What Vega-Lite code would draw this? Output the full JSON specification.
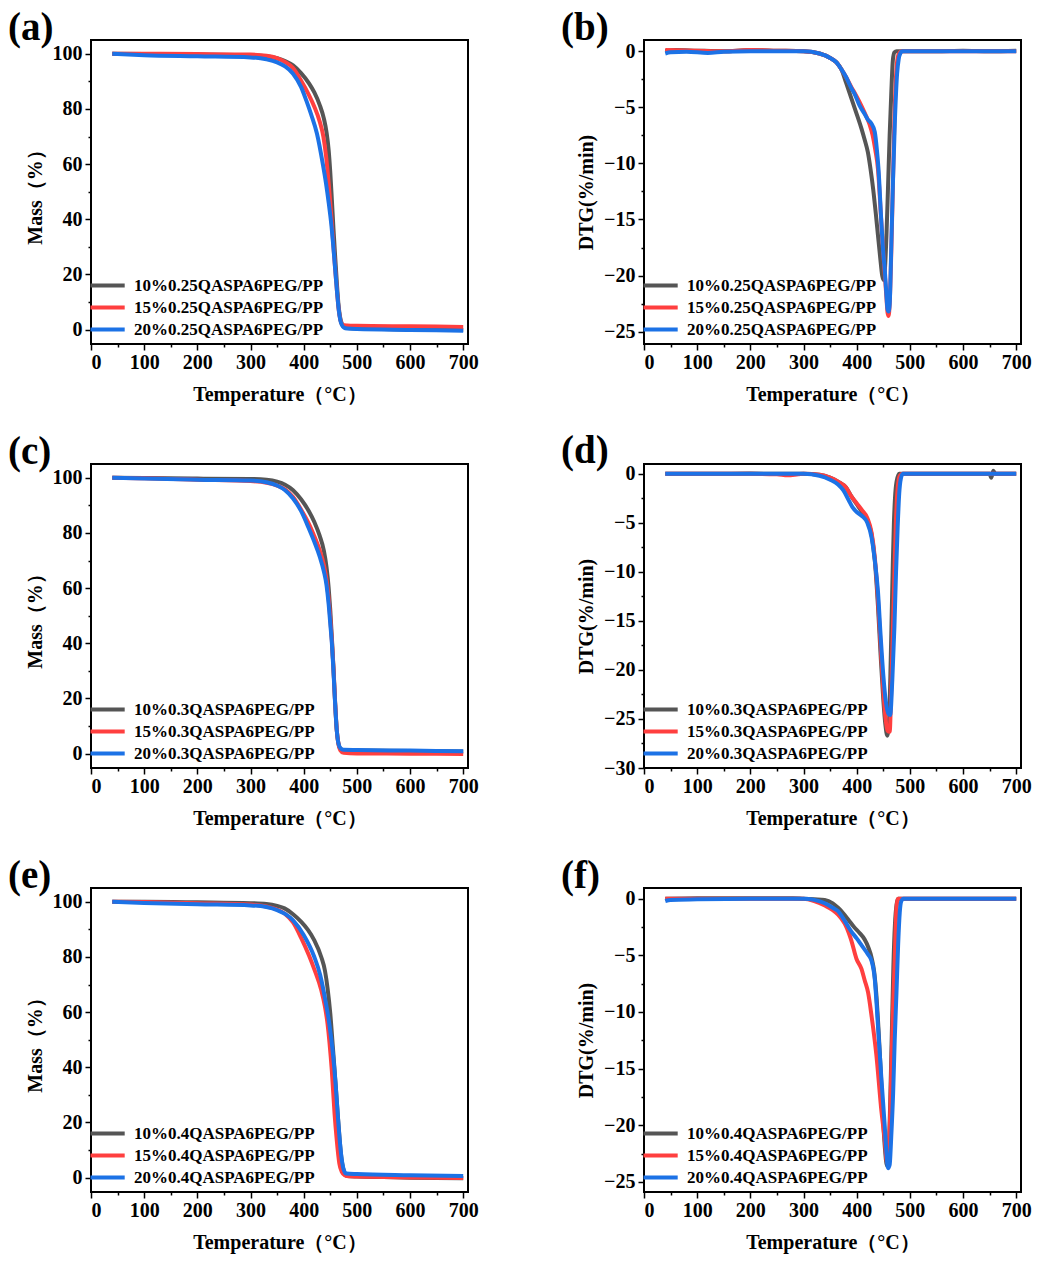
{
  "$schema": "https://vega.github.io/schema/vega-lite/v6.json",
  "padding": {"left": 7, "top": 8, "right": 5, "bottom": 5},
  "background": "white",
  "datasets": {
    "a": [
      {"s": "10%0.25QASPA6PEG/PP", "T": 40, "v": 100}, {"s": "10%0.25QASPA6PEG/PP", "T": 100, "v": 99.9}, {"s": "10%0.25QASPA6PEG/PP", "T": 200, "v": 99.7}, {"s": "10%0.25QASPA6PEG/PP", "T": 300, "v": 99.5}, {"s": "10%0.25QASPA6PEG/PP", "T": 330, "v": 99.1}, {"s": "10%0.25QASPA6PEG/PP", "T": 350, "v": 98.4}, {"s": "10%0.25QASPA6PEG/PP", "T": 365, "v": 97.4}, {"s": "10%0.25QASPA6PEG/PP", "T": 380, "v": 95.8}, {"s": "10%0.25QASPA6PEG/PP", "T": 395, "v": 93}, {"s": "10%0.25QASPA6PEG/PP", "T": 410, "v": 89.3}, {"s": "10%0.25QASPA6PEG/PP", "T": 420, "v": 86}, {"s": "10%0.25QASPA6PEG/PP", "T": 430, "v": 81.5}, {"s": "10%0.25QASPA6PEG/PP", "T": 438, "v": 76.5}, {"s": "10%0.25QASPA6PEG/PP", "T": 443, "v": 71.5}, {"s": "10%0.25QASPA6PEG/PP", "T": 447, "v": 65}, {"s": "10%0.25QASPA6PEG/PP", "T": 450, "v": 57}, {"s": "10%0.25QASPA6PEG/PP", "T": 453, "v": 47}, {"s": "10%0.25QASPA6PEG/PP", "T": 456, "v": 36.5}, {"s": "10%0.25QASPA6PEG/PP", "T": 459, "v": 27}, {"s": "10%0.25QASPA6PEG/PP", "T": 462, "v": 18}, {"s": "10%0.25QASPA6PEG/PP", "T": 465, "v": 10}, {"s": "10%0.25QASPA6PEG/PP", "T": 468, "v": 5}, {"s": "10%0.25QASPA6PEG/PP", "T": 472, "v": 2}, {"s": "10%0.25QASPA6PEG/PP", "T": 476, "v": 1}, {"s": "10%0.25QASPA6PEG/PP", "T": 482, "v": 0.6}, {"s": "10%0.25QASPA6PEG/PP", "T": 500, "v": 0.4}, {"s": "10%0.25QASPA6PEG/PP", "T": 600, "v": 0.1}, {"s": "10%0.25QASPA6PEG/PP", "T": 700, "v": -0.1},
      {"s": "15%0.25QASPA6PEG/PP", "T": 40, "v": 100}, {"s": "15%0.25QASPA6PEG/PP", "T": 100, "v": 100}, {"s": "15%0.25QASPA6PEG/PP", "T": 200, "v": 99.9}, {"s": "15%0.25QASPA6PEG/PP", "T": 300, "v": 99.7}, {"s": "15%0.25QASPA6PEG/PP", "T": 330, "v": 99.3}, {"s": "15%0.25QASPA6PEG/PP", "T": 350, "v": 98.4}, {"s": "15%0.25QASPA6PEG/PP", "T": 365, "v": 97}, {"s": "15%0.25QASPA6PEG/PP", "T": 380, "v": 94.8}, {"s": "15%0.25QASPA6PEG/PP", "T": 395, "v": 90.3}, {"s": "15%0.25QASPA6PEG/PP", "T": 410, "v": 85}, {"s": "15%0.25QASPA6PEG/PP", "T": 420, "v": 80.8}, {"s": "15%0.25QASPA6PEG/PP", "T": 430, "v": 75.5}, {"s": "15%0.25QASPA6PEG/PP", "T": 437, "v": 70}, {"s": "15%0.25QASPA6PEG/PP", "T": 442, "v": 63}, {"s": "15%0.25QASPA6PEG/PP", "T": 447, "v": 53}, {"s": "15%0.25QASPA6PEG/PP", "T": 452, "v": 41}, {"s": "15%0.25QASPA6PEG/PP", "T": 456, "v": 30}, {"s": "15%0.25QASPA6PEG/PP", "T": 460, "v": 20}, {"s": "15%0.25QASPA6PEG/PP", "T": 463, "v": 13}, {"s": "15%0.25QASPA6PEG/PP", "T": 466, "v": 7}, {"s": "15%0.25QASPA6PEG/PP", "T": 469, "v": 3.5}, {"s": "15%0.25QASPA6PEG/PP", "T": 472, "v": 2}, {"s": "15%0.25QASPA6PEG/PP", "T": 476, "v": 1.6}, {"s": "15%0.25QASPA6PEG/PP", "T": 482, "v": 1.5}, {"s": "15%0.25QASPA6PEG/PP", "T": 500, "v": 1.4}, {"s": "15%0.25QASPA6PEG/PP", "T": 600, "v": 1.2}, {"s": "15%0.25QASPA6PEG/PP", "T": 700, "v": 1.0},
      {"s": "20%0.25QASPA6PEG/PP", "T": 40, "v": 100}, {"s": "20%0.25QASPA6PEG/PP", "T": 100, "v": 99.5}, {"s": "20%0.25QASPA6PEG/PP", "T": 200, "v": 99.1}, {"s": "20%0.25QASPA6PEG/PP", "T": 300, "v": 98.7}, {"s": "20%0.25QASPA6PEG/PP", "T": 330, "v": 98}, {"s": "20%0.25QASPA6PEG/PP", "T": 350, "v": 96.9}, {"s": "20%0.25QASPA6PEG/PP", "T": 365, "v": 95.4}, {"s": "20%0.25QASPA6PEG/PP", "T": 380, "v": 92.8}, {"s": "20%0.25QASPA6PEG/PP", "T": 395, "v": 88}, {"s": "20%0.25QASPA6PEG/PP", "T": 405, "v": 83}, {"s": "20%0.25QASPA6PEG/PP", "T": 414, "v": 78}, {"s": "20%0.25QASPA6PEG/PP", "T": 425, "v": 71}, {"s": "20%0.25QASPA6PEG/PP", "T": 436, "v": 60}, {"s": "20%0.25QASPA6PEG/PP", "T": 442, "v": 53}, {"s": "20%0.25QASPA6PEG/PP", "T": 447, "v": 46}, {"s": "20%0.25QASPA6PEG/PP", "T": 452, "v": 38}, {"s": "20%0.25QASPA6PEG/PP", "T": 456, "v": 29.5}, {"s": "20%0.25QASPA6PEG/PP", "T": 460, "v": 20}, {"s": "20%0.25QASPA6PEG/PP", "T": 463, "v": 13}, {"s": "20%0.25QASPA6PEG/PP", "T": 466, "v": 7}, {"s": "20%0.25QASPA6PEG/PP", "T": 469, "v": 3.3}, {"s": "20%0.25QASPA6PEG/PP", "T": 472, "v": 1.6}, {"s": "20%0.25QASPA6PEG/PP", "T": 476, "v": 0.7}, {"s": "20%0.25QASPA6PEG/PP", "T": 482, "v": 0.4}, {"s": "20%0.25QASPA6PEG/PP", "T": 500, "v": 0.2}, {"s": "20%0.25QASPA6PEG/PP", "T": 600, "v": -0.1}, {"s": "20%0.25QASPA6PEG/PP", "T": 700, "v": -0.4}
    ],
    "b": [
      {"s": "10%0.25QASPA6PEG/PP", "T": 40, "v": 0}, {"s": "10%0.25QASPA6PEG/PP", "T": 60, "v": 0.1}, {"s": "10%0.25QASPA6PEG/PP", "T": 100, "v": 0.05}, {"s": "10%0.25QASPA6PEG/PP", "T": 150, "v": 0}, {"s": "10%0.25QASPA6PEG/PP", "T": 200, "v": 0.1}, {"s": "10%0.25QASPA6PEG/PP", "T": 250, "v": 0.05}, {"s": "10%0.25QASPA6PEG/PP", "T": 300, "v": 0}, {"s": "10%0.25QASPA6PEG/PP", "T": 330, "v": -0.2}, {"s": "10%0.25QASPA6PEG/PP", "T": 350, "v": -0.6}, {"s": "10%0.25QASPA6PEG/PP", "T": 362, "v": -1.0}, {"s": "10%0.25QASPA6PEG/PP", "T": 371, "v": -1.6}, {"s": "10%0.25QASPA6PEG/PP", "T": 380, "v": -2.8}, {"s": "10%0.25QASPA6PEG/PP", "T": 390, "v": -4.2}, {"s": "10%0.25QASPA6PEG/PP", "T": 400, "v": -5.6}, {"s": "10%0.25QASPA6PEG/PP", "T": 409, "v": -6.9}, {"s": "10%0.25QASPA6PEG/PP", "T": 415, "v": -7.9}, {"s": "10%0.25QASPA6PEG/PP", "T": 421, "v": -9}, {"s": "10%0.25QASPA6PEG/PP", "T": 426, "v": -10.5}, {"s": "10%0.25QASPA6PEG/PP", "T": 431, "v": -12.3}, {"s": "10%0.25QASPA6PEG/PP", "T": 436, "v": -14.5}, {"s": "10%0.25QASPA6PEG/PP", "T": 440, "v": -16.4}, {"s": "10%0.25QASPA6PEG/PP", "T": 444, "v": -18.3}, {"s": "10%0.25QASPA6PEG/PP", "T": 448, "v": -20}, {"s": "10%0.25QASPA6PEG/PP", "T": 451, "v": -20.4}, {"s": "10%0.25QASPA6PEG/PP", "T": 453, "v": -19.5}, {"s": "10%0.25QASPA6PEG/PP", "T": 456, "v": -16.4}, {"s": "10%0.25QASPA6PEG/PP", "T": 459, "v": -12}, {"s": "10%0.25QASPA6PEG/PP", "T": 462, "v": -7.5}, {"s": "10%0.25QASPA6PEG/PP", "T": 465, "v": -3.8}, {"s": "10%0.25QASPA6PEG/PP", "T": 468, "v": -0.8}, {"s": "10%0.25QASPA6PEG/PP", "T": 471, "v": -0.1}, {"s": "10%0.25QASPA6PEG/PP", "T": 475, "v": 0}, {"s": "10%0.25QASPA6PEG/PP", "T": 550, "v": 0}, {"s": "10%0.25QASPA6PEG/PP", "T": 600, "v": 0.05}, {"s": "10%0.25QASPA6PEG/PP", "T": 650, "v": 0}, {"s": "10%0.25QASPA6PEG/PP", "T": 700, "v": 0.05},
      {"s": "15%0.25QASPA6PEG/PP", "T": 40, "v": 0.1}, {"s": "15%0.25QASPA6PEG/PP", "T": 100, "v": 0.05}, {"s": "15%0.25QASPA6PEG/PP", "T": 150, "v": 0}, {"s": "15%0.25QASPA6PEG/PP", "T": 200, "v": 0.1}, {"s": "15%0.25QASPA6PEG/PP", "T": 250, "v": 0.05}, {"s": "15%0.25QASPA6PEG/PP", "T": 300, "v": 0}, {"s": "15%0.25QASPA6PEG/PP", "T": 330, "v": -0.2}, {"s": "15%0.25QASPA6PEG/PP", "T": 350, "v": -0.6}, {"s": "15%0.25QASPA6PEG/PP", "T": 362, "v": -1.0}, {"s": "15%0.25QASPA6PEG/PP", "T": 371, "v": -1.6}, {"s": "15%0.25QASPA6PEG/PP", "T": 380, "v": -2.3}, {"s": "15%0.25QASPA6PEG/PP", "T": 390, "v": -3.2}, {"s": "15%0.25QASPA6PEG/PP", "T": 396, "v": -3.7}, {"s": "15%0.25QASPA6PEG/PP", "T": 405, "v": -4.5}, {"s": "15%0.25QASPA6PEG/PP", "T": 415, "v": -5.5}, {"s": "15%0.25QASPA6PEG/PP", "T": 424, "v": -6.5}, {"s": "15%0.25QASPA6PEG/PP", "T": 430, "v": -7.5}, {"s": "15%0.25QASPA6PEG/PP", "T": 435, "v": -8.8}, {"s": "15%0.25QASPA6PEG/PP", "T": 440, "v": -10.5}, {"s": "15%0.25QASPA6PEG/PP", "T": 446, "v": -15}, {"s": "15%0.25QASPA6PEG/PP", "T": 450, "v": -18}, {"s": "15%0.25QASPA6PEG/PP", "T": 453, "v": -20}, {"s": "15%0.25QASPA6PEG/PP", "T": 456, "v": -22}, {"s": "15%0.25QASPA6PEG/PP", "T": 458, "v": -23.3}, {"s": "15%0.25QASPA6PEG/PP", "T": 460, "v": -23.6}, {"s": "15%0.25QASPA6PEG/PP", "T": 462, "v": -22.5}, {"s": "15%0.25QASPA6PEG/PP", "T": 465, "v": -18}, {"s": "15%0.25QASPA6PEG/PP", "T": 468, "v": -12}, {"s": "15%0.25QASPA6PEG/PP", "T": 471, "v": -6}, {"s": "15%0.25QASPA6PEG/PP", "T": 474, "v": -2.2}, {"s": "15%0.25QASPA6PEG/PP", "T": 477, "v": -0.6}, {"s": "15%0.25QASPA6PEG/PP", "T": 481, "v": -0.1}, {"s": "15%0.25QASPA6PEG/PP", "T": 485, "v": 0}, {"s": "15%0.25QASPA6PEG/PP", "T": 600, "v": 0}, {"s": "15%0.25QASPA6PEG/PP", "T": 700, "v": 0},
      {"s": "20%0.25QASPA6PEG/PP", "T": 40, "v": -0.2}, {"s": "20%0.25QASPA6PEG/PP", "T": 50, "v": -0.1}, {"s": "20%0.25QASPA6PEG/PP", "T": 80, "v": -0.05}, {"s": "20%0.25QASPA6PEG/PP", "T": 120, "v": -0.15}, {"s": "20%0.25QASPA6PEG/PP", "T": 150, "v": -0.05}, {"s": "20%0.25QASPA6PEG/PP", "T": 200, "v": 0}, {"s": "20%0.25QASPA6PEG/PP", "T": 300, "v": 0}, {"s": "20%0.25QASPA6PEG/PP", "T": 330, "v": -0.2}, {"s": "20%0.25QASPA6PEG/PP", "T": 350, "v": -0.6}, {"s": "20%0.25QASPA6PEG/PP", "T": 362, "v": -1.0}, {"s": "20%0.25QASPA6PEG/PP", "T": 371, "v": -1.6}, {"s": "20%0.25QASPA6PEG/PP", "T": 380, "v": -2.3}, {"s": "20%0.25QASPA6PEG/PP", "T": 390, "v": -3.3}, {"s": "20%0.25QASPA6PEG/PP", "T": 396, "v": -3.8}, {"s": "20%0.25QASPA6PEG/PP", "T": 405, "v": -4.8}, {"s": "20%0.25QASPA6PEG/PP", "T": 415, "v": -5.6}, {"s": "20%0.25QASPA6PEG/PP", "T": 421, "v": -6.1}, {"s": "20%0.25QASPA6PEG/PP", "T": 427, "v": -6.4}, {"s": "20%0.25QASPA6PEG/PP", "T": 434, "v": -7.2}, {"s": "20%0.25QASPA6PEG/PP", "T": 438, "v": -8.8}, {"s": "20%0.25QASPA6PEG/PP", "T": 441, "v": -10.5}, {"s": "20%0.25QASPA6PEG/PP", "T": 446, "v": -14.9}, {"s": "20%0.25QASPA6PEG/PP", "T": 450, "v": -18}, {"s": "20%0.25QASPA6PEG/PP", "T": 453, "v": -19.6}, {"s": "20%0.25QASPA6PEG/PP", "T": 456, "v": -21.8}, {"s": "20%0.25QASPA6PEG/PP", "T": 458, "v": -23}, {"s": "20%0.25QASPA6PEG/PP", "T": 460, "v": -23.2}, {"s": "20%0.25QASPA6PEG/PP", "T": 462, "v": -22.6}, {"s": "20%0.25QASPA6PEG/PP", "T": 465, "v": -17.5}, {"s": "20%0.25QASPA6PEG/PP", "T": 468, "v": -12}, {"s": "20%0.25QASPA6PEG/PP", "T": 472, "v": -6}, {"s": "20%0.25QASPA6PEG/PP", "T": 476, "v": -2}, {"s": "20%0.25QASPA6PEG/PP", "T": 479, "v": -0.7}, {"s": "20%0.25QASPA6PEG/PP", "T": 482, "v": -0.2}, {"s": "20%0.25QASPA6PEG/PP", "T": 486, "v": 0}, {"s": "20%0.25QASPA6PEG/PP", "T": 600, "v": 0}, {"s": "20%0.25QASPA6PEG/PP", "T": 700, "v": 0}
    ],
    "c": [
      {"s": "10%0.3QASPA6PEG/PP", "T": 40, "v": 100}, {"s": "10%0.3QASPA6PEG/PP", "T": 100, "v": 99.9}, {"s": "10%0.3QASPA6PEG/PP", "T": 200, "v": 99.7}, {"s": "10%0.3QASPA6PEG/PP", "T": 300, "v": 99.6}, {"s": "10%0.3QASPA6PEG/PP", "T": 330, "v": 99.3}, {"s": "10%0.3QASPA6PEG/PP", "T": 350, "v": 98.6}, {"s": "10%0.3QASPA6PEG/PP", "T": 365, "v": 97.5}, {"s": "10%0.3QASPA6PEG/PP", "T": 380, "v": 95.5}, {"s": "10%0.3QASPA6PEG/PP", "T": 395, "v": 92.2}, {"s": "10%0.3QASPA6PEG/PP", "T": 410, "v": 87.8}, {"s": "10%0.3QASPA6PEG/PP", "T": 420, "v": 84}, {"s": "10%0.3QASPA6PEG/PP", "T": 430, "v": 79}, {"s": "10%0.3QASPA6PEG/PP", "T": 438, "v": 73.5}, {"s": "10%0.3QASPA6PEG/PP", "T": 443, "v": 67.5}, {"s": "10%0.3QASPA6PEG/PP", "T": 447, "v": 60}, {"s": "10%0.3QASPA6PEG/PP", "T": 450, "v": 52}, {"s": "10%0.3QASPA6PEG/PP", "T": 453, "v": 42}, {"s": "10%0.3QASPA6PEG/PP", "T": 456, "v": 31}, {"s": "10%0.3QASPA6PEG/PP", "T": 459, "v": 19}, {"s": "10%0.3QASPA6PEG/PP", "T": 462, "v": 9}, {"s": "10%0.3QASPA6PEG/PP", "T": 465, "v": 4}, {"s": "10%0.3QASPA6PEG/PP", "T": 469, "v": 1.8}, {"s": "10%0.3QASPA6PEG/PP", "T": 475, "v": 1.2}, {"s": "10%0.3QASPA6PEG/PP", "T": 500, "v": 1.1}, {"s": "10%0.3QASPA6PEG/PP", "T": 600, "v": 1}, {"s": "10%0.3QASPA6PEG/PP", "T": 700, "v": 0.8},
      {"s": "15%0.3QASPA6PEG/PP", "T": 40, "v": 100}, {"s": "15%0.3QASPA6PEG/PP", "T": 100, "v": 99.8}, {"s": "15%0.3QASPA6PEG/PP", "T": 200, "v": 99.3}, {"s": "15%0.3QASPA6PEG/PP", "T": 300, "v": 98.8}, {"s": "15%0.3QASPA6PEG/PP", "T": 330, "v": 98.2}, {"s": "15%0.3QASPA6PEG/PP", "T": 350, "v": 97.2}, {"s": "15%0.3QASPA6PEG/PP", "T": 365, "v": 95.8}, {"s": "15%0.3QASPA6PEG/PP", "T": 380, "v": 93}, {"s": "15%0.3QASPA6PEG/PP", "T": 395, "v": 88.5}, {"s": "15%0.3QASPA6PEG/PP", "T": 410, "v": 83.2}, {"s": "15%0.3QASPA6PEG/PP", "T": 420, "v": 78.8}, {"s": "15%0.3QASPA6PEG/PP", "T": 430, "v": 73.8}, {"s": "15%0.3QASPA6PEG/PP", "T": 438, "v": 68.3}, {"s": "15%0.3QASPA6PEG/PP", "T": 443, "v": 63}, {"s": "15%0.3QASPA6PEG/PP", "T": 447, "v": 56}, {"s": "15%0.3QASPA6PEG/PP", "T": 450, "v": 49}, {"s": "15%0.3QASPA6PEG/PP", "T": 453, "v": 41}, {"s": "15%0.3QASPA6PEG/PP", "T": 456, "v": 31}, {"s": "15%0.3QASPA6PEG/PP", "T": 459, "v": 19}, {"s": "15%0.3QASPA6PEG/PP", "T": 462, "v": 9}, {"s": "15%0.3QASPA6PEG/PP", "T": 465, "v": 4}, {"s": "15%0.3QASPA6PEG/PP", "T": 469, "v": 1.2}, {"s": "15%0.3QASPA6PEG/PP", "T": 475, "v": 0.3}, {"s": "15%0.3QASPA6PEG/PP", "T": 500, "v": 0.1}, {"s": "15%0.3QASPA6PEG/PP", "T": 600, "v": 0}, {"s": "15%0.3QASPA6PEG/PP", "T": 700, "v": -0.1},
      {"s": "20%0.3QASPA6PEG/PP", "T": 40, "v": 100}, {"s": "20%0.3QASPA6PEG/PP", "T": 100, "v": 99.7}, {"s": "20%0.3QASPA6PEG/PP", "T": 200, "v": 99.3}, {"s": "20%0.3QASPA6PEG/PP", "T": 300, "v": 99}, {"s": "20%0.3QASPA6PEG/PP", "T": 330, "v": 98.4}, {"s": "20%0.3QASPA6PEG/PP", "T": 350, "v": 97.2}, {"s": "20%0.3QASPA6PEG/PP", "T": 365, "v": 95.5}, {"s": "20%0.3QASPA6PEG/PP", "T": 380, "v": 92.5}, {"s": "20%0.3QASPA6PEG/PP", "T": 395, "v": 88}, {"s": "20%0.3QASPA6PEG/PP", "T": 410, "v": 81.5}, {"s": "20%0.3QASPA6PEG/PP", "T": 420, "v": 76.8}, {"s": "20%0.3QASPA6PEG/PP", "T": 430, "v": 71.5}, {"s": "20%0.3QASPA6PEG/PP", "T": 438, "v": 66}, {"s": "20%0.3QASPA6PEG/PP", "T": 443, "v": 61}, {"s": "20%0.3QASPA6PEG/PP", "T": 447, "v": 54}, {"s": "20%0.3QASPA6PEG/PP", "T": 450, "v": 47}, {"s": "20%0.3QASPA6PEG/PP", "T": 453, "v": 40}, {"s": "20%0.3QASPA6PEG/PP", "T": 456, "v": 30}, {"s": "20%0.3QASPA6PEG/PP", "T": 459, "v": 18.5}, {"s": "20%0.3QASPA6PEG/PP", "T": 462, "v": 9}, {"s": "20%0.3QASPA6PEG/PP", "T": 465, "v": 4}, {"s": "20%0.3QASPA6PEG/PP", "T": 469, "v": 2}, {"s": "20%0.3QASPA6PEG/PP", "T": 475, "v": 1.4}, {"s": "20%0.3QASPA6PEG/PP", "T": 500, "v": 1.3}, {"s": "20%0.3QASPA6PEG/PP", "T": 600, "v": 1.1}, {"s": "20%0.3QASPA6PEG/PP", "T": 700, "v": 0.9}
    ],
    "d": [
      {"s": "10%0.3QASPA6PEG/PP", "T": 40, "v": 0}, {"s": "10%0.3QASPA6PEG/PP", "T": 100, "v": 0}, {"s": "10%0.3QASPA6PEG/PP", "T": 200, "v": 0.02}, {"s": "10%0.3QASPA6PEG/PP", "T": 300, "v": 0}, {"s": "10%0.3QASPA6PEG/PP", "T": 330, "v": -0.1}, {"s": "10%0.3QASPA6PEG/PP", "T": 350, "v": -0.4}, {"s": "10%0.3QASPA6PEG/PP", "T": 365, "v": -0.8}, {"s": "10%0.3QASPA6PEG/PP", "T": 380, "v": -1.4}, {"s": "10%0.3QASPA6PEG/PP", "T": 390, "v": -2.3}, {"s": "10%0.3QASPA6PEG/PP", "T": 400, "v": -3.1}, {"s": "10%0.3QASPA6PEG/PP", "T": 410, "v": -3.9}, {"s": "10%0.3QASPA6PEG/PP", "T": 420, "v": -4.8}, {"s": "10%0.3QASPA6PEG/PP", "T": 428, "v": -6.2}, {"s": "10%0.3QASPA6PEG/PP", "T": 434, "v": -8.8}, {"s": "10%0.3QASPA6PEG/PP", "T": 440, "v": -13.5}, {"s": "10%0.3QASPA6PEG/PP", "T": 445, "v": -18.5}, {"s": "10%0.3QASPA6PEG/PP", "T": 450, "v": -23}, {"s": "10%0.3QASPA6PEG/PP", "T": 454, "v": -25.6}, {"s": "10%0.3QASPA6PEG/PP", "T": 457.5, "v": -26.7}, {"s": "10%0.3QASPA6PEG/PP", "T": 461, "v": -25}, {"s": "10%0.3QASPA6PEG/PP", "T": 464, "v": -19}, {"s": "10%0.3QASPA6PEG/PP", "T": 466, "v": -14}, {"s": "10%0.3QASPA6PEG/PP", "T": 468, "v": -9}, {"s": "10%0.3QASPA6PEG/PP", "T": 470, "v": -5}, {"s": "10%0.3QASPA6PEG/PP", "T": 472, "v": -2.5}, {"s": "10%0.3QASPA6PEG/PP", "T": 475, "v": -0.8}, {"s": "10%0.3QASPA6PEG/PP", "T": 480, "v": 0}, {"s": "10%0.3QASPA6PEG/PP", "T": 600, "v": 0}, {"s": "10%0.3QASPA6PEG/PP", "T": 650, "v": 0}, {"s": "10%0.3QASPA6PEG/PP", "T": 653, "v": -0.4}, {"s": "10%0.3QASPA6PEG/PP", "T": 657, "v": 0.3}, {"s": "10%0.3QASPA6PEG/PP", "T": 661, "v": 0}, {"s": "10%0.3QASPA6PEG/PP", "T": 700, "v": 0},
      {"s": "15%0.3QASPA6PEG/PP", "T": 40, "v": 0}, {"s": "15%0.3QASPA6PEG/PP", "T": 100, "v": 0}, {"s": "15%0.3QASPA6PEG/PP", "T": 200, "v": 0}, {"s": "15%0.3QASPA6PEG/PP", "T": 250, "v": -0.05}, {"s": "15%0.3QASPA6PEG/PP", "T": 270, "v": -0.15}, {"s": "15%0.3QASPA6PEG/PP", "T": 290, "v": -0.05}, {"s": "15%0.3QASPA6PEG/PP", "T": 300, "v": 0}, {"s": "15%0.3QASPA6PEG/PP", "T": 330, "v": -0.1}, {"s": "15%0.3QASPA6PEG/PP", "T": 350, "v": -0.4}, {"s": "15%0.3QASPA6PEG/PP", "T": 365, "v": -0.8}, {"s": "15%0.3QASPA6PEG/PP", "T": 380, "v": -1.4}, {"s": "15%0.3QASPA6PEG/PP", "T": 390, "v": -2.3}, {"s": "15%0.3QASPA6PEG/PP", "T": 400, "v": -3}, {"s": "15%0.3QASPA6PEG/PP", "T": 410, "v": -3.7}, {"s": "15%0.3QASPA6PEG/PP", "T": 420, "v": -4.5}, {"s": "15%0.3QASPA6PEG/PP", "T": 428, "v": -6}, {"s": "15%0.3QASPA6PEG/PP", "T": 434, "v": -8.5}, {"s": "15%0.3QASPA6PEG/PP", "T": 440, "v": -12.8}, {"s": "15%0.3QASPA6PEG/PP", "T": 445, "v": -17.5}, {"s": "15%0.3QASPA6PEG/PP", "T": 450, "v": -22}, {"s": "15%0.3QASPA6PEG/PP", "T": 454, "v": -24.8}, {"s": "15%0.3QASPA6PEG/PP", "T": 458, "v": -26.2}, {"s": "15%0.3QASPA6PEG/PP", "T": 462, "v": -26.3}, {"s": "15%0.3QASPA6PEG/PP", "T": 465, "v": -22}, {"s": "15%0.3QASPA6PEG/PP", "T": 468, "v": -16}, {"s": "15%0.3QASPA6PEG/PP", "T": 471, "v": -10}, {"s": "15%0.3QASPA6PEG/PP", "T": 474, "v": -4.5}, {"s": "15%0.3QASPA6PEG/PP", "T": 477, "v": -1.5}, {"s": "15%0.3QASPA6PEG/PP", "T": 481, "v": -0.2}, {"s": "15%0.3QASPA6PEG/PP", "T": 486, "v": 0}, {"s": "15%0.3QASPA6PEG/PP", "T": 700, "v": 0},
      {"s": "20%0.3QASPA6PEG/PP", "T": 40, "v": 0}, {"s": "20%0.3QASPA6PEG/PP", "T": 100, "v": 0}, {"s": "20%0.3QASPA6PEG/PP", "T": 200, "v": 0}, {"s": "20%0.3QASPA6PEG/PP", "T": 300, "v": 0}, {"s": "20%0.3QASPA6PEG/PP", "T": 330, "v": -0.2}, {"s": "20%0.3QASPA6PEG/PP", "T": 350, "v": -0.6}, {"s": "20%0.3QASPA6PEG/PP", "T": 365, "v": -1.1}, {"s": "20%0.3QASPA6PEG/PP", "T": 375, "v": -1.7}, {"s": "20%0.3QASPA6PEG/PP", "T": 385, "v": -2.7}, {"s": "20%0.3QASPA6PEG/PP", "T": 392, "v": -3.4}, {"s": "20%0.3QASPA6PEG/PP", "T": 400, "v": -3.9}, {"s": "20%0.3QASPA6PEG/PP", "T": 410, "v": -4.3}, {"s": "20%0.3QASPA6PEG/PP", "T": 420, "v": -5}, {"s": "20%0.3QASPA6PEG/PP", "T": 428, "v": -6.5}, {"s": "20%0.3QASPA6PEG/PP", "T": 434, "v": -8.8}, {"s": "20%0.3QASPA6PEG/PP", "T": 440, "v": -12}, {"s": "20%0.3QASPA6PEG/PP", "T": 445, "v": -16.5}, {"s": "20%0.3QASPA6PEG/PP", "T": 450, "v": -20.5}, {"s": "20%0.3QASPA6PEG/PP", "T": 455, "v": -23.3}, {"s": "20%0.3QASPA6PEG/PP", "T": 460, "v": -24.5}, {"s": "20%0.3QASPA6PEG/PP", "T": 463, "v": -24.6}, {"s": "20%0.3QASPA6PEG/PP", "T": 467, "v": -21}, {"s": "20%0.3QASPA6PEG/PP", "T": 471, "v": -15.5}, {"s": "20%0.3QASPA6PEG/PP", "T": 474, "v": -10}, {"s": "20%0.3QASPA6PEG/PP", "T": 477, "v": -5.5}, {"s": "20%0.3QASPA6PEG/PP", "T": 480, "v": -2}, {"s": "20%0.3QASPA6PEG/PP", "T": 483, "v": -0.5}, {"s": "20%0.3QASPA6PEG/PP", "T": 487, "v": 0}, {"s": "20%0.3QASPA6PEG/PP", "T": 700, "v": 0}
    ],
    "e": [
      {"s": "10%0.4QASPA6PEG/PP", "T": 40, "v": 100}, {"s": "10%0.4QASPA6PEG/PP", "T": 100, "v": 100}, {"s": "10%0.4QASPA6PEG/PP", "T": 200, "v": 99.8}, {"s": "10%0.4QASPA6PEG/PP", "T": 300, "v": 99.5}, {"s": "10%0.4QASPA6PEG/PP", "T": 330, "v": 99.2}, {"s": "10%0.4QASPA6PEG/PP", "T": 350, "v": 98.5}, {"s": "10%0.4QASPA6PEG/PP", "T": 364, "v": 97.6}, {"s": "10%0.4QASPA6PEG/PP", "T": 380, "v": 95.5}, {"s": "10%0.4QASPA6PEG/PP", "T": 395, "v": 92.8}, {"s": "10%0.4QASPA6PEG/PP", "T": 408, "v": 89.8}, {"s": "10%0.4QASPA6PEG/PP", "T": 420, "v": 86}, {"s": "10%0.4QASPA6PEG/PP", "T": 433, "v": 80}, {"s": "10%0.4QASPA6PEG/PP", "T": 440, "v": 75}, {"s": "10%0.4QASPA6PEG/PP", "T": 445, "v": 68.5}, {"s": "10%0.4QASPA6PEG/PP", "T": 450, "v": 59.5}, {"s": "10%0.4QASPA6PEG/PP", "T": 455, "v": 47}, {"s": "10%0.4QASPA6PEG/PP", "T": 460, "v": 34}, {"s": "10%0.4QASPA6PEG/PP", "T": 464, "v": 23}, {"s": "10%0.4QASPA6PEG/PP", "T": 468, "v": 13}, {"s": "10%0.4QASPA6PEG/PP", "T": 471, "v": 7}, {"s": "10%0.4QASPA6PEG/PP", "T": 474, "v": 3.5}, {"s": "10%0.4QASPA6PEG/PP", "T": 478, "v": 1.2}, {"s": "10%0.4QASPA6PEG/PP", "T": 482, "v": 0.6}, {"s": "10%0.4QASPA6PEG/PP", "T": 500, "v": 0.4}, {"s": "10%0.4QASPA6PEG/PP", "T": 550, "v": 0.2}, {"s": "10%0.4QASPA6PEG/PP", "T": 600, "v": 0}, {"s": "10%0.4QASPA6PEG/PP", "T": 700, "v": -0.2},
      {"s": "15%0.4QASPA6PEG/PP", "T": 40, "v": 100}, {"s": "15%0.4QASPA6PEG/PP", "T": 100, "v": 99.9}, {"s": "15%0.4QASPA6PEG/PP", "T": 200, "v": 99.5}, {"s": "15%0.4QASPA6PEG/PP", "T": 300, "v": 99}, {"s": "15%0.4QASPA6PEG/PP", "T": 330, "v": 98.3}, {"s": "15%0.4QASPA6PEG/PP", "T": 350, "v": 97.2}, {"s": "15%0.4QASPA6PEG/PP", "T": 365, "v": 95.6}, {"s": "15%0.4QASPA6PEG/PP", "T": 380, "v": 92.5}, {"s": "15%0.4QASPA6PEG/PP", "T": 395, "v": 87}, {"s": "15%0.4QASPA6PEG/PP", "T": 410, "v": 80.5}, {"s": "15%0.4QASPA6PEG/PP", "T": 420, "v": 75.5}, {"s": "15%0.4QASPA6PEG/PP", "T": 433, "v": 68}, {"s": "15%0.4QASPA6PEG/PP", "T": 440, "v": 62}, {"s": "15%0.4QASPA6PEG/PP", "T": 445, "v": 55.5}, {"s": "15%0.4QASPA6PEG/PP", "T": 448.5, "v": 49}, {"s": "15%0.4QASPA6PEG/PP", "T": 453, "v": 38.5}, {"s": "15%0.4QASPA6PEG/PP", "T": 458, "v": 23.3}, {"s": "15%0.4QASPA6PEG/PP", "T": 462, "v": 14}, {"s": "15%0.4QASPA6PEG/PP", "T": 467, "v": 5.2}, {"s": "15%0.4QASPA6PEG/PP", "T": 472, "v": 2}, {"s": "15%0.4QASPA6PEG/PP", "T": 477, "v": 0.9}, {"s": "15%0.4QASPA6PEG/PP", "T": 485, "v": 0.5}, {"s": "15%0.4QASPA6PEG/PP", "T": 500, "v": 0.4}, {"s": "15%0.4QASPA6PEG/PP", "T": 600, "v": 0.1}, {"s": "15%0.4QASPA6PEG/PP", "T": 700, "v": -0.1},
      {"s": "20%0.4QASPA6PEG/PP", "T": 40, "v": 100}, {"s": "20%0.4QASPA6PEG/PP", "T": 100, "v": 99.6}, {"s": "20%0.4QASPA6PEG/PP", "T": 200, "v": 99.1}, {"s": "20%0.4QASPA6PEG/PP", "T": 300, "v": 98.7}, {"s": "20%0.4QASPA6PEG/PP", "T": 330, "v": 98.1}, {"s": "20%0.4QASPA6PEG/PP", "T": 350, "v": 97}, {"s": "20%0.4QASPA6PEG/PP", "T": 365, "v": 95.6}, {"s": "20%0.4QASPA6PEG/PP", "T": 380, "v": 93.3}, {"s": "20%0.4QASPA6PEG/PP", "T": 400, "v": 88}, {"s": "20%0.4QASPA6PEG/PP", "T": 420, "v": 80}, {"s": "20%0.4QASPA6PEG/PP", "T": 431, "v": 73.5}, {"s": "20%0.4QASPA6PEG/PP", "T": 442, "v": 63}, {"s": "20%0.4QASPA6PEG/PP", "T": 448, "v": 56}, {"s": "20%0.4QASPA6PEG/PP", "T": 455, "v": 45}, {"s": "20%0.4QASPA6PEG/PP", "T": 460, "v": 34}, {"s": "20%0.4QASPA6PEG/PP", "T": 464, "v": 23}, {"s": "20%0.4QASPA6PEG/PP", "T": 468, "v": 13}, {"s": "20%0.4QASPA6PEG/PP", "T": 472, "v": 6}, {"s": "20%0.4QASPA6PEG/PP", "T": 476, "v": 2.5}, {"s": "20%0.4QASPA6PEG/PP", "T": 480, "v": 1.5}, {"s": "20%0.4QASPA6PEG/PP", "T": 500, "v": 1.3}, {"s": "20%0.4QASPA6PEG/PP", "T": 600, "v": 0.9}, {"s": "20%0.4QASPA6PEG/PP", "T": 700, "v": 0.6}
    ],
    "f": [
      {"s": "10%0.4QASPA6PEG/PP", "T": 40, "v": 0}, {"s": "10%0.4QASPA6PEG/PP", "T": 100, "v": 0.05}, {"s": "10%0.4QASPA6PEG/PP", "T": 200, "v": 0.05}, {"s": "10%0.4QASPA6PEG/PP", "T": 280, "v": 0.05}, {"s": "10%0.4QASPA6PEG/PP", "T": 300, "v": 0}, {"s": "10%0.4QASPA6PEG/PP", "T": 320, "v": -0.05}, {"s": "10%0.4QASPA6PEG/PP", "T": 340, "v": -0.1}, {"s": "10%0.4QASPA6PEG/PP", "T": 355, "v": -0.4}, {"s": "10%0.4QASPA6PEG/PP", "T": 365, "v": -0.8}, {"s": "10%0.4QASPA6PEG/PP", "T": 375, "v": -1.3}, {"s": "10%0.4QASPA6PEG/PP", "T": 385, "v": -1.9}, {"s": "10%0.4QASPA6PEG/PP", "T": 395, "v": -2.5}, {"s": "10%0.4QASPA6PEG/PP", "T": 405, "v": -3.0}, {"s": "10%0.4QASPA6PEG/PP", "T": 415, "v": -3.6}, {"s": "10%0.4QASPA6PEG/PP", "T": 422, "v": -4.3}, {"s": "10%0.4QASPA6PEG/PP", "T": 428, "v": -5.2}, {"s": "10%0.4QASPA6PEG/PP", "T": 433, "v": -6.5}, {"s": "10%0.4QASPA6PEG/PP", "T": 437, "v": -8.5}, {"s": "10%0.4QASPA6PEG/PP", "T": 441, "v": -11.5}, {"s": "10%0.4QASPA6PEG/PP", "T": 445, "v": -15}, {"s": "10%0.4QASPA6PEG/PP", "T": 449, "v": -19}, {"s": "10%0.4QASPA6PEG/PP", "T": 453, "v": -22}, {"s": "10%0.4QASPA6PEG/PP", "T": 457, "v": -23.6}, {"s": "10%0.4QASPA6PEG/PP", "T": 460, "v": -22.5}, {"s": "10%0.4QASPA6PEG/PP", "T": 463, "v": -18}, {"s": "10%0.4QASPA6PEG/PP", "T": 466, "v": -12}, {"s": "10%0.4QASPA6PEG/PP", "T": 469, "v": -6}, {"s": "10%0.4QASPA6PEG/PP", "T": 472, "v": -2.2}, {"s": "10%0.4QASPA6PEG/PP", "T": 475, "v": -0.5}, {"s": "10%0.4QASPA6PEG/PP", "T": 478, "v": 0}, {"s": "10%0.4QASPA6PEG/PP", "T": 600, "v": 0}, {"s": "10%0.4QASPA6PEG/PP", "T": 700, "v": 0},
      {"s": "15%0.4QASPA6PEG/PP", "T": 40, "v": 0}, {"s": "15%0.4QASPA6PEG/PP", "T": 100, "v": 0}, {"s": "15%0.4QASPA6PEG/PP", "T": 200, "v": 0}, {"s": "15%0.4QASPA6PEG/PP", "T": 300, "v": 0}, {"s": "15%0.4QASPA6PEG/PP", "T": 320, "v": -0.2}, {"s": "15%0.4QASPA6PEG/PP", "T": 340, "v": -0.6}, {"s": "15%0.4QASPA6PEG/PP", "T": 355, "v": -1.0}, {"s": "15%0.4QASPA6PEG/PP", "T": 365, "v": -1.4}, {"s": "15%0.4QASPA6PEG/PP", "T": 377.5, "v": -2.2}, {"s": "15%0.4QASPA6PEG/PP", "T": 385, "v": -3}, {"s": "15%0.4QASPA6PEG/PP", "T": 390, "v": -3.7}, {"s": "15%0.4QASPA6PEG/PP", "T": 399.5, "v": -5.3}, {"s": "15%0.4QASPA6PEG/PP", "T": 409, "v": -6.2}, {"s": "15%0.4QASPA6PEG/PP", "T": 415, "v": -7.2}, {"s": "15%0.4QASPA6PEG/PP", "T": 421.5, "v": -8.3}, {"s": "15%0.4QASPA6PEG/PP", "T": 427.8, "v": -10.3}, {"s": "15%0.4QASPA6PEG/PP", "T": 437, "v": -13.8}, {"s": "15%0.4QASPA6PEG/PP", "T": 446.6, "v": -18.8}, {"s": "15%0.4QASPA6PEG/PP", "T": 452.8, "v": -21.3}, {"s": "15%0.4QASPA6PEG/PP", "T": 457, "v": -23.3}, {"s": "15%0.4QASPA6PEG/PP", "T": 460, "v": -22.5}, {"s": "15%0.4QASPA6PEG/PP", "T": 463, "v": -19}, {"s": "15%0.4QASPA6PEG/PP", "T": 465.4, "v": -14.5}, {"s": "15%0.4QASPA6PEG/PP", "T": 468.5, "v": -9.5}, {"s": "15%0.4QASPA6PEG/PP", "T": 471.6, "v": -5.3}, {"s": "15%0.4QASPA6PEG/PP", "T": 474.8, "v": -0.8}, {"s": "15%0.4QASPA6PEG/PP", "T": 478, "v": 0}, {"s": "15%0.4QASPA6PEG/PP", "T": 600, "v": 0}, {"s": "15%0.4QASPA6PEG/PP", "T": 700, "v": 0},
      {"s": "20%0.4QASPA6PEG/PP", "T": 40, "v": -0.2}, {"s": "20%0.4QASPA6PEG/PP", "T": 50, "v": -0.1}, {"s": "20%0.4QASPA6PEG/PP", "T": 100, "v": -0.05}, {"s": "20%0.4QASPA6PEG/PP", "T": 200, "v": 0}, {"s": "20%0.4QASPA6PEG/PP", "T": 300, "v": 0}, {"s": "20%0.4QASPA6PEG/PP", "T": 320, "v": -0.1}, {"s": "20%0.4QASPA6PEG/PP", "T": 340, "v": -0.4}, {"s": "20%0.4QASPA6PEG/PP", "T": 355, "v": -0.8}, {"s": "20%0.4QASPA6PEG/PP", "T": 365, "v": -1.1}, {"s": "20%0.4QASPA6PEG/PP", "T": 378, "v": -2}, {"s": "20%0.4QASPA6PEG/PP", "T": 390, "v": -2.9}, {"s": "20%0.4QASPA6PEG/PP", "T": 400, "v": -3.5}, {"s": "20%0.4QASPA6PEG/PP", "T": 409, "v": -4.1}, {"s": "20%0.4QASPA6PEG/PP", "T": 421, "v": -4.9}, {"s": "20%0.4QASPA6PEG/PP", "T": 428, "v": -5.5}, {"s": "20%0.4QASPA6PEG/PP", "T": 434, "v": -7.1}, {"s": "20%0.4QASPA6PEG/PP", "T": 437, "v": -9}, {"s": "20%0.4QASPA6PEG/PP", "T": 440, "v": -11.2}, {"s": "20%0.4QASPA6PEG/PP", "T": 446.6, "v": -16}, {"s": "20%0.4QASPA6PEG/PP", "T": 452.8, "v": -20.1}, {"s": "20%0.4QASPA6PEG/PP", "T": 456, "v": -22.5}, {"s": "20%0.4QASPA6PEG/PP", "T": 459, "v": -23.8}, {"s": "20%0.4QASPA6PEG/PP", "T": 462, "v": -23.5}, {"s": "20%0.4QASPA6PEG/PP", "T": 465, "v": -21}, {"s": "20%0.4QASPA6PEG/PP", "T": 468.5, "v": -17.2}, {"s": "20%0.4QASPA6PEG/PP", "T": 471.5, "v": -12.5}, {"s": "20%0.4QASPA6PEG/PP", "T": 474.8, "v": -8.3}, {"s": "20%0.4QASPA6PEG/PP", "T": 478, "v": -4}, {"s": "20%0.4QASPA6PEG/PP", "T": 481, "v": -1.2}, {"s": "20%0.4QASPA6PEG/PP", "T": 484, "v": -0.2}, {"s": "20%0.4QASPA6PEG/PP", "T": 488, "v": 0}, {"s": "20%0.4QASPA6PEG/PP", "T": 600, "v": 0}, {"s": "20%0.4QASPA6PEG/PP", "T": 700, "v": 0}
    ]
  },
  "columns": 2,
  "spacing": {"row": 120, "column": 176},
  "bounds": "flush",
  "concat": [
    {
      "width": 377, "height": 304,
      "title": "(a)",
      "data": {"name": "a"},
      "mark": "line",
      "encoding": {
        "x": {"field": "T", "type": "quantitative", "scale": {"domain": [0, 709], "nice": false, "zero": false},
              "axis": {"title": "Temperature（°C）", "values": [0, 50, 100, 150, 200, 250, 300, 350, 400, 450, 500, 550, 600, 650, 700], "labelExpr": "datum.value % 100 === 0 ? datum.label : ''", "tickSize": {"condition": {"test": "datum.value % 100 === 0", "value": 6}, "value": 3}}},
        "y": {"field": "v", "type": "quantitative", "scale": {"domain": [-5.2, 105], "nice": false, "zero": false},
              "axis": {"title": "Mass（%）", "values": [0, 10, 20, 30, 40, 50, 60, 70, 80, 90, 100], "labelExpr": "datum.value % 20 === 0 ? datum.label : ''", "tickSize": {"condition": {"test": "datum.value % 20 === 0", "value": 6}, "value": 3}}},
        "color": {"field": "s", "type": "nominal", "scale": {"range": ["#555555", "#FF3F3F", "#1C72E6"]}, "legend": {"title": null}}
      }
    },
    {
      "width": 377, "height": 304,
      "title": "(b)",
      "data": {"name": "b"},
      "mark": "line",
      "encoding": {
        "x": {"field": "T", "type": "quantitative", "scale": {"domain": [0, 709], "nice": false, "zero": false},
              "axis": {"title": "Temperature（°C）", "values": [0, 50, 100, 150, 200, 250, 300, 350, 400, 450, 500, 550, 600, 650, 700], "labelExpr": "datum.value % 100 === 0 ? datum.label : ''", "tickSize": {"condition": {"test": "datum.value % 100 === 0", "value": 6}, "value": 3}}},
        "y": {"field": "v", "type": "quantitative", "scale": {"domain": [-26.1, 1], "nice": false, "zero": false},
              "axis": {"title": "DTG(%/min)", "values": [0, -2.5, -5, -7.5, -10, -12.5, -15, -17.5, -20, -22.5, -25], "labelExpr": "datum.value % 5 === 0 ? datum.label : ''", "tickSize": {"condition": {"test": "datum.value % 5 === 0", "value": 6}, "value": 3}}},
        "color": {"field": "s", "type": "nominal", "scale": {"range": ["#555555", "#FF3F3F", "#1C72E6"]}, "legend": {"title": null}}
      }
    },
    {
      "width": 377, "height": 304,
      "title": "(c)",
      "data": {"name": "c"},
      "mark": "line",
      "encoding": {
        "x": {"field": "T", "type": "quantitative", "scale": {"domain": [0, 709], "nice": false, "zero": false},
              "axis": {"title": "Temperature（°C）", "values": [0, 50, 100, 150, 200, 250, 300, 350, 400, 450, 500, 550, 600, 650, 700], "labelExpr": "datum.value % 100 === 0 ? datum.label : ''", "tickSize": {"condition": {"test": "datum.value % 100 === 0", "value": 6}, "value": 3}}},
        "y": {"field": "v", "type": "quantitative", "scale": {"domain": [-5.2, 105], "nice": false, "zero": false},
              "axis": {"title": "Mass（%）", "values": [0, 10, 20, 30, 40, 50, 60, 70, 80, 90, 100], "labelExpr": "datum.value % 20 === 0 ? datum.label : ''", "tickSize": {"condition": {"test": "datum.value % 20 === 0", "value": 6}, "value": 3}}},
        "color": {"field": "s", "type": "nominal", "scale": {"range": ["#555555", "#FF3F3F", "#1C72E6"]}, "legend": {"title": null}}
      }
    },
    {
      "width": 377, "height": 304,
      "title": "(d)",
      "data": {"name": "d"},
      "mark": "line",
      "encoding": {
        "x": {"field": "T", "type": "quantitative", "scale": {"domain": [0, 709], "nice": false, "zero": false},
              "axis": {"title": "Temperature（°C）", "values": [0, 50, 100, 150, 200, 250, 300, 350, 400, 450, 500, 550, 600, 650, 700], "labelExpr": "datum.value % 100 === 0 ? datum.label : ''", "tickSize": {"condition": {"test": "datum.value % 100 === 0", "value": 6}, "value": 3}}},
        "y": {"field": "v", "type": "quantitative", "scale": {"domain": [-30, 1], "nice": false, "zero": false},
              "axis": {"title": "DTG(%/min)", "values": [0, -2.5, -5, -7.5, -10, -12.5, -15, -17.5, -20, -22.5, -25, -27.5, -30], "labelExpr": "datum.value % 5 === 0 ? datum.label : ''", "tickSize": {"condition": {"test": "datum.value % 5 === 0", "value": 6}, "value": 3}}},
        "color": {"field": "s", "type": "nominal", "scale": {"range": ["#555555", "#FF3F3F", "#1C72E6"]}, "legend": {"title": null}}
      }
    },
    {
      "width": 377, "height": 304,
      "title": "(e)",
      "data": {"name": "e"},
      "mark": "line",
      "encoding": {
        "x": {"field": "T", "type": "quantitative", "scale": {"domain": [0, 709], "nice": false, "zero": false},
              "axis": {"title": "Temperature（°C）", "values": [0, 50, 100, 150, 200, 250, 300, 350, 400, 450, 500, 550, 600, 650, 700], "labelExpr": "datum.value % 100 === 0 ? datum.label : ''", "tickSize": {"condition": {"test": "datum.value % 100 === 0", "value": 6}, "value": 3}}},
        "y": {"field": "v", "type": "quantitative", "scale": {"domain": [-5.2, 105], "nice": false, "zero": false},
              "axis": {"title": "Mass（%）", "values": [0, 10, 20, 30, 40, 50, 60, 70, 80, 90, 100], "labelExpr": "datum.value % 20 === 0 ? datum.label : ''", "tickSize": {"condition": {"test": "datum.value % 20 === 0", "value": 6}, "value": 3}}},
        "color": {"field": "s", "type": "nominal", "scale": {"range": ["#555555", "#FF3F3F", "#1C72E6"]}, "legend": {"title": null}}
      }
    },
    {
      "width": 377, "height": 304,
      "title": "(f)",
      "data": {"name": "f"},
      "mark": "line",
      "encoding": {
        "x": {"field": "T", "type": "quantitative", "scale": {"domain": [0, 709], "nice": false, "zero": false},
              "axis": {"title": "Temperature（°C）", "values": [0, 50, 100, 150, 200, 250, 300, 350, 400, 450, 500, 550, 600, 650, 700], "labelExpr": "datum.value % 100 === 0 ? datum.label : ''", "tickSize": {"condition": {"test": "datum.value % 100 === 0", "value": 6}, "value": 3}}},
        "y": {"field": "v", "type": "quantitative", "scale": {"domain": [-25.9, 0.95], "nice": false, "zero": false},
              "axis": {"title": "DTG(%/min)", "values": [0, -2.5, -5, -7.5, -10, -12.5, -15, -17.5, -20, -22.5, -25], "labelExpr": "datum.value % 5 === 0 ? datum.label : ''", "tickSize": {"condition": {"test": "datum.value % 5 === 0", "value": 6}, "value": 3}}},
        "color": {"field": "s", "type": "nominal", "scale": {"range": ["#555555", "#FF3F3F", "#1C72E6"]}, "legend": {"title": null}}
      }
    }
  ],
  "resolve": {
    "scale": {"x": "independent", "y": "independent", "color": "independent"},
    "axis": {"x": "independent", "y": "independent"},
    "legend": {"color": "independent"}
  },
  "config": {
    "font": "Liberation Serif",
    "view": {"stroke": "black", "strokeWidth": 2},
    "line": {"strokeWidth": 4, "interpolate": "monotone"},
    "axis": {
      "labelFont": "Liberation Serif", "labelFontSize": 20, "labelFontWeight": "bold", "labelColor": "black",
      "titleFont": "Liberation Serif", "titleFontSize": 20, "titleFontWeight": "bold", "titleColor": "black",
      "tickColor": "black", "tickWidth": 1.5, "grid": false, "domain": false, "labelOverlap": false
    },
    "axisX": {"labelPadding": 2, "titlePadding": 12},
    "axisY": {"labelPadding": 3, "titlePadding": 7},
    "legend": {
      "orient": "bottom-left", "offset": 6, "padding": 0, "labelLimit": 0,
      "labelFont": "Liberation Serif", "labelFontSize": 17, "labelFontWeight": "bold", "labelColor": "black",
      "symbolType": "M-2.5,0H3.2", "symbolSize": 144, "symbolStrokeWidth": 4, "labelOffset": 20, "rowPadding": 4
    },
    "title": {
      "font": "Liberation Serif", "fontSize": 39, "fontWeight": "bold", "color": "black",
      "anchor": "start", "frame": "group", "dx": -83, "offset": 0, "baseline": "alphabetic", "dy": 12
    }
  }
}
